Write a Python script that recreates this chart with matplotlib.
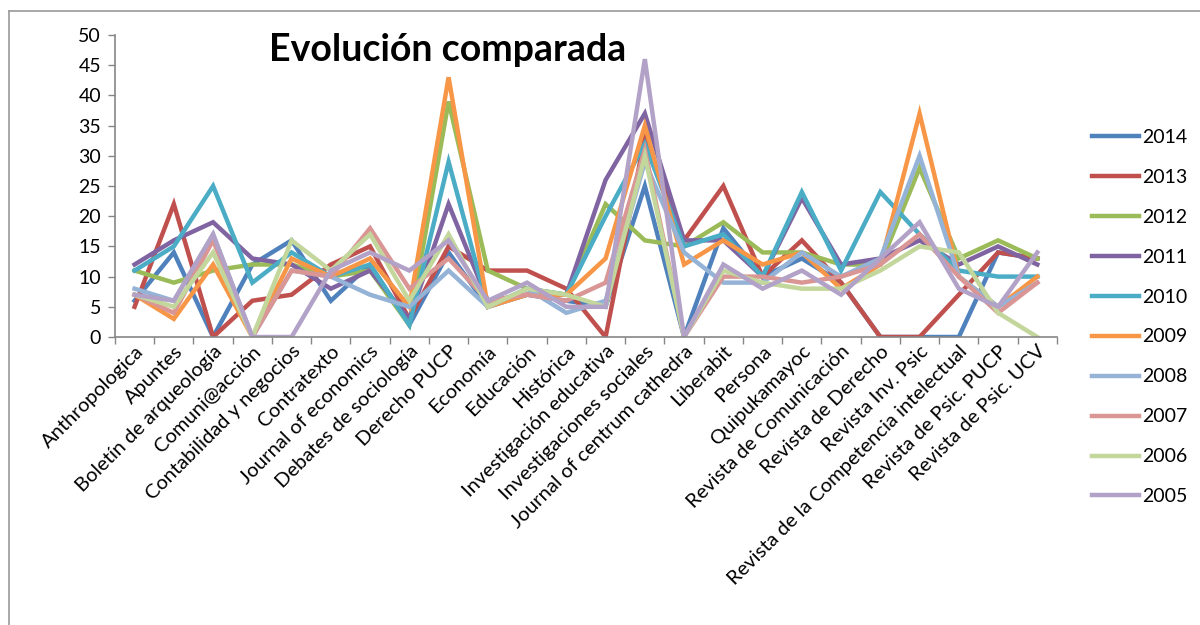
import numpy as np
import matplotlib
matplotlib.use("Agg")
import matplotlib.pyplot as plt
from matplotlib.lines import Line2D

plt.rcParams['font.family'] = ['Lato', 'DejaVu Sans']

# categories (journals)
revistas = ["Anthropologica", "Apuntes", "Boletín de arqueología", "Comuni@acción",
            "Contabilidad y negocios", "Contratexto", "Journal of economics",
            "Debates de sociología", "Derecho PUCP", "Economía", "Educación",
            "Histórica", "Investigación educativa", "Investigaciones sociales",
            "Journal of centrum cathedra", "Liberabit", "Persona", "Quipukamayoc",
            "Revista de Comunicación", "Revista de Derecho", "Revista Inv. Psic",
            "Revista de la Competencia intelectual", "Revista de Psic. PUCP",
            "Revista de Psic. UCV"]

anios = ["2014", "2013", "2012", "2011", "2010", "2009", "2008", "2007", "2006", "2005"]

v2014 = [6, 14, 0, 12, 16, 6, 12, 2, 14, 5, 7, 6, 5, 25, 0, 18, 10, 13, 9, 0, 0, 0, 14, 13]
v2013 = [5, 22, 0, 6, 7, 12, 15, 3, 15, 11, 11, 8, 0, 33, 16, 25, 10, 16, 9, 0, 0, 7, 14, 13]
v2012 = [11, 9, 11, 12, 12, 10, 11, 2, 39, 11, 8, 7, 22, 16, 15, 19, 14, 14, 12, 12, 28, 13, 16, 13]
v2011 = [12, 16, 19, 13, 12, 8, 11, 3, 22, 6, 7, 7, 26, 37, 16, 16, 10, 23, 12, 13, 16, 12, 15, 12]
v2010 = [11, 15, 25, 9, 14, 10, 12, 2, 29, 5, 8, 7, 20, 32, 15, 17, 10, 24, 11, 24, 17, 11, 10, 10]
v2009 = [7, 3, 12, 0, 13, 10, 13, 5, 43, 5, 7, 7, 13, 35, 12, 16, 12, 14, 8, 12, 37, 10, 5, 10]
v2008 = [8, 6, 17, 0, 11, 10, 7, 5, 11, 5, 8, 4, 6, 29, 14, 9, 9, 14, 10, 13, 30, 10, 5, 9]
v2007 = [7, 4, 16, 0, 11, 10, 18, 8, 13, 6, 7, 6, 9, 31, 0, 10, 10, 9, 10, 12, 17, 10, 4, 9]
v2006 = [7, 5, 14, 0, 16, 11, 17, 6, 17, 5, 8, 7, 5, 30, 0, 11, 9, 8, 8, 11, 15, 14, 4, 0]
v2005 = [7, 6, 17, 0, 0, 11, 14, 11, 16, 6, 9, 5, 5, 46, 0, 12, 8, 11, 7, 13, 19, 8, 5, 14]

series = [v2014, v2013, v2012, v2011, v2010, v2009, v2008, v2007, v2006, v2005]
colores = ["#4F81BD", "#C0504D", "#9BBB59", "#8064A2", "#4BACC6",
           "#F79646", "#95B3D7", "#D99694", "#C3D69B", "#B3A2C7"]

fig = plt.figure(figsize=(12, 6.25), dpi=100)
ax = fig.add_axes([0.0958, 0.4608, 0.785, 0.4832])

x = np.arange(len(revistas))
for vals, c, lab in zip(series, colores, anios):
    ax.plot(x, vals, color=c, lw=3.2, label=lab, solid_joinstyle='miter')

ax.set_xlim(-0.5, len(revistas) - 0.5)
ax.set_ylim(0, 50)
ax.set_yticks(range(0, 51, 5))
ax.set_xticks(x)
ax.set_xticklabels(revistas, rotation=45, ha='right', rotation_mode='anchor', fontsize=14.5)
ax.tick_params(axis='x', length=0, pad=4)
ax.set_xticks(np.arange(-0.5, len(revistas)), minor=True)
ax.tick_params(axis='x', which='minor', length=5, color='#868686', width=1)
ax.tick_params(axis='y', length=5, color='#868686', width=1, labelsize=14, pad=5)

for s in ['top', 'right']:
    ax.spines[s].set_visible(False)
for s in ['left', 'bottom']:
    ax.spines[s].set_color('#868686')
    ax.spines[s].set_linewidth(1.2)

fig.text(448 / 1200, 1 - 50 / 625, "Evolución comparada", fontsize=27, fontweight='bold',
         ha='center', va='center')

handles = [Line2D([0], [0], color=c, lw=3.2) for c in colores]
fig.legend(handles, anios, loc='upper left', bbox_to_anchor=(1084 / 1200, 1 - 121 / 625),
           frameon=False, fontsize=14, labelspacing=1.18, handlelength=2.45,
           handletextpad=0.12, borderaxespad=0)

# outer chart border (left and top edges visible)
fig.add_artist(Line2D([9 / 1200, 9 / 1200], [0, 1 - 11 / 625], color='#9a9a9a', lw=1.2))
fig.add_artist(Line2D([9 / 1200, 1], [1 - 11 / 625, 1 - 11 / 625], color='#9a9a9a', lw=1.2))

fig.savefig("out.png", dpi=100)
